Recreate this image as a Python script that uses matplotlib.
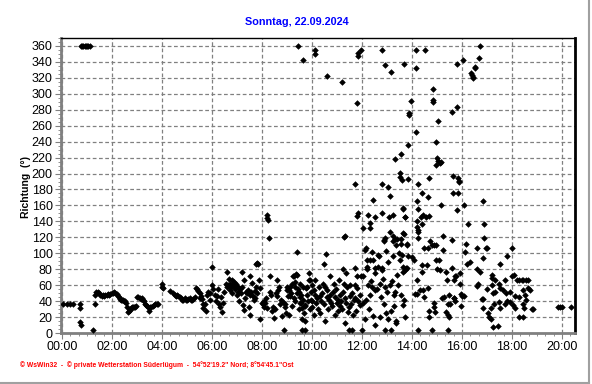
import matplotlib
matplotlib.use('Agg')
import matplotlib.pyplot as plt
from matplotlib.lines import Line2D
from matplotlib.ticker import MultipleLocator, FuncFormatter

plt.rcParams['font.family'] = ['Liberation Sans', 'DejaVu Sans']

# (Uhrzeit in Stunden, Windrichtung in Grad)
nacht = [(0.05, 37), (0.19, 37), (0.32, 37), (0.45, 37), (0.72, 37), (0.72, 31), (0.73, 14), (0.76, 10),
         (0.76, 360), (0.80, 360), (0.85, 360), (0.90, 360), (0.95, 360), (1.00, 360), (1.05, 360), (1.10, 360),
         (1.25, 4), (1.30, 37),
         (1.33, 48), (1.37, 51), (1.42, 52), (1.47, 50), (1.52, 48), (1.58, 47), (1.63, 48), (1.68, 47),
         (1.73, 48), (1.78, 48), (1.83, 49), (1.88, 48), (1.93, 49), (1.98, 50), (2.03, 50), (2.08, 51),
         (2.13, 50), (2.18, 49), (2.22, 47), (2.26, 45), (2.30, 43), (2.34, 42), (2.38, 42), (2.42, 41),
         (2.46, 40), (2.50, 40), (2.55, 38), (2.60, 33), (2.63, 26), (2.67, 27), (2.71, 29), (2.75, 31),
         (2.79, 32), (2.83, 32), (2.88, 32), (2.92, 33), (2.97, 34),
         (3.00, 45), (3.05, 45), (3.10, 44), (3.15, 43), (3.20, 44), (3.25, 42), (3.29, 40), (3.33, 37),
         (3.37, 35), (3.41, 34), (3.45, 33), (3.49, 27), (3.53, 33), (3.57, 32), (3.62, 34), (3.67, 35),
         (3.72, 37), (3.78, 37), (3.85, 37),
         (3.99, 62), (4.00, 58), (4.02, 56), (4.30, 53),
         (4.45, 50), (4.50, 48), (4.55, 47), (4.60, 48), (4.65, 46), (4.70, 45), (4.75, 44), (4.80, 42),
         (4.85, 42), (4.90, 44), (4.95, 42), (5.00, 41), (5.05, 43), (5.10, 44), (5.15, 42), (5.20, 41),
         (5.25, 43), (5.30, 45), (5.35, 56), (5.40, 55), (5.45, 53), (5.50, 50), (5.55, 46), (5.60, 43),
         (5.62, 37), (5.65, 31)]

morgen = [(5.53, 44), (5.80, 48), (6.00, 60), (5.73, 37), (5.77, 27), (5.93, 42), (6.01, 83), (6.20, 46),
          (6.27, 36), (6.33, 33), (6.40, 26), (6.47, 52), (6.60, 58), (6.67, 68), (6.73, 54), (6.80, 50),
          (6.87, 64), (6.93, 58), (7.00, 48), (7.07, 40), (7.20, 58), (7.27, 67), (7.33, 44), (7.47, 33),
          (7.53, 23), (7.60, 63), (7.67, 42), (7.73, 44), (7.80, 50), (7.93, 56), (7.93, 17), (8.07, 40),
          (8.07, 33), (8.20, 31), (8.40, 27), (8.47, 19), (8.60, 46), (8.67, 58), (8.73, 37), (8.80, 21),
          (8.87, 4), (8.93, 37), (9.00, 54), (9.07, 22), (9.20, 62), (9.27, 44), (9.33, 64), (9.30, 40),
          (9.47, 52), (9.60, 31), (9.73, 15), (9.73, 4), (9.87, 66), (10.00, 40), (10.07, 23),
          (6.59, 76), (7.19, 76), (7.52, 71), (7.75, 87), (7.80, 88), (7.85, 87), (7.88, 67), (8.32, 71),
          (8.59, 67), (9.39, 102), (8.19, 148), (8.20, 144), (8.22, 142), (8.28, 119),
          (6.55, 62), (6.62, 60), (6.70, 62), (6.75, 58), (6.80, 66), (6.85, 60), (6.90, 55), (6.95, 62),
          (7.02, 58), (7.05, 52), (7.10, 55), (7.15, 50), (7.35, 52), (7.40, 50), (7.45, 54), (7.50, 48),
          (7.55, 52), (7.62, 46), (5.85, 52), (5.90, 50), (6.05, 55), (6.10, 48), (6.15, 40), (6.25, 55),
          (6.35, 45), (6.42, 38), (7.25, 35), (7.28, 29), (7.70, 53), (7.75, 58), (7.98, 38), (8.02, 36),
          (8.10, 38), (8.15, 44), (8.30, 52), (8.35, 48), (8.45, 32), (8.50, 30), (8.55, 50), (8.65, 54),
          (8.75, 42), (8.85, 39), (8.90, 32), (8.95, 25), (9.05, 46), (9.10, 58), (9.15, 50), (9.25, 72),
          (9.35, 74), (9.42, 55), (9.50, 45), (9.55, 38), (9.65, 58), (9.70, 35), (9.80, 48), (9.90, 30),
          (9.95, 52)]

mittag = [(10.56, 99), (12.10, 104), (12.40, 102), (12.62, 98), (12.68, 96), (12.95, 103), (13.25, 97),
          (13.48, 100), (13.85, 96), (12.19, 92), (12.32, 92), (12.45, 91), (12.20, 83), (12.20, 80),
          (12.52, 81), (12.65, 83), (12.78, 82), (12.52, 75), (12.78, 79), (13.05, 89), (13.50, 91),
          (13.75, 82), (13.40, 73), (13.72, 79), (10.46, 87), (11.71, 81), (11.25, 80), (11.35, 75),
          (11.80, 72), (11.95, 72), (12.05, 72), (9.89, 75), (9.39, 73), (9.26, 71),
          (9.00, 58), (9.07, 54), (9.13, 46), (9.20, 34), (9.33, 58), (9.40, 50), (9.47, 30), (9.53, 38),
          (9.60, 17), (9.67, 25), (9.73, 34), (9.80, 58), (9.93, 67), (9.96, 42), (10.00, 32), (10.07, 54),
          (10.13, 67), (10.20, 44), (10.27, 58), (10.33, 25), (10.40, 50), (10.47, 36), (10.53, 15),
          (10.60, 54), (10.67, 42), (10.73, 71), (10.80, 34), (10.87, 62), (10.93, 23), (11.00, 38),
          (11.07, 67), (11.10, 34), (11.20, 30), (11.27, 62), (11.33, 13), (11.40, 58), (11.47, 32),
          (11.53, 46), (11.60, 50), (11.67, 42), (11.73, 44), (11.80, 56), (11.47, 4), (11.60, 4), (9.60, 4),
          (12.00, 4), (12.13, 17), (12.27, 30), (12.30, 48), (12.43, 21), (12.53, 54), (12.60, 55),
          (12.87, 37), (12.93, 4), (13.16, 4), (13.16, 28), (13.27, 34), (13.29, 48), (13.37, 15),
          (13.37, 12), (13.67, 42),
          (10.10, 48), (10.15, 38), (10.22, 30), (10.30, 46), (10.35, 40), (10.42, 62), (10.50, 58),
          (10.58, 45), (10.63, 30), (10.70, 48), (10.75, 38), (10.83, 52), (10.90, 45), (10.97, 55),
          (11.03, 42), (11.05, 28), (11.13, 48), (11.15, 40), (11.23, 52), (11.30, 44), (11.37, 38),
          (11.43, 26), (11.50, 60), (11.57, 36), (11.63, 22), (11.70, 60), (11.75, 28), (11.85, 40),
          (11.90, 35), (11.93, 48), (9.50, 62), (9.57, 48), (9.62, 42), (9.75, 56), (9.85, 40), (9.98, 60),
          (12.05, 38), (12.15, 42), (12.25, 60), (12.35, 65), (12.40, 58), (12.70, 62), (12.75, 45),
          (12.82, 68), (12.90, 58), (13.00, 52), (13.10, 60), (13.20, 65), (13.33, 52), (13.45, 60),
          (13.55, 48), (13.62, 35), (12.97, 25), (13.05, 18), (12.50, 10), (12.70, 20),
          (11.72, 187), (12.79, 187), (13.03, 183), (13.10, 172), (12.45, 167), (13.65, 157), (11.85, 151),
          (11.80, 147), (12.25, 148), (12.50, 146), (12.78, 150), (13.08, 146), (13.25, 148), (12.32, 138),
          (12.30, 132), (12.03, 132), (13.70, 146), (13.65, 125), (13.10, 127), (12.93, 119), (12.87, 116),
          (13.24, 116), (13.40, 118), (13.57, 118), (13.80, 112), (11.29, 121), (11.32, 122), (12.15, 107),
          (12.88, 117), (13.23, 122), (13.30, 118), (13.35, 111), (13.55, 112)]

nord = [(9.45, 360), (9.65, 343), (10.12, 355), (10.12, 350), (10.59, 322), (11.21, 315), (11.79, 289),
        (11.83, 351), (11.83, 348), (11.96, 355), (12.81, 355), (12.92, 336), (13.17, 327), (13.68, 338),
        (14.16, 355), (14.16, 332), (14.53, 355), (13.96, 291), (13.89, 276), (13.89, 273), (14.85, 306),
        (14.83, 292), (14.83, 290), (15.05, 266), (15.61, 277), (15.81, 283), (15.81, 338), (16.03, 343),
        (16.37, 326), (16.40, 323), (16.43, 321), (16.45, 320), (16.52, 334), (16.52, 332), (16.68, 345),
        (16.72, 360)]

nachmittag = [(14.15, 252), (14.96, 240), (13.85, 236), (13.55, 225), (13.32, 218), (15.00, 219), (15.05, 216),
              (15.10, 213), (15.15, 215), (14.96, 211), (13.52, 201), (13.52, 196), (13.59, 192), (13.85, 193),
              (14.69, 194), (15.65, 197), (15.85, 194), (15.87, 191), (15.89, 189), (14.25, 187), (15.65, 176),
              (15.85, 176), (14.39, 176), (14.65, 170), (14.21, 166), (16.85, 166), (15.16, 161), (16.09, 161),
              (15.78, 154), (14.25, 155), (13.65, 156), (14.45, 148), (14.55, 146), (14.69, 147), (14.20, 140),
              (14.40, 137), (14.20, 133), (14.22, 129), (14.23, 127), (15.23, 122), (16.23, 137), (16.90, 137),
              (16.90, 119), (16.97, 107), (16.59, 107), (18.01, 107), (16.15, 112), (15.59, 117), (14.72, 115),
              (14.64, 107), (14.87, 111), (13.81, 111), (13.72, 145), (13.68, 124), (14.49, 106), (14.79, 110),
              (14.96, 110), (15.23, 104), (16.13, 101), (17.01, 106), (16.85, 94), (17.81, 97), (14.25, 119),
              (14.37, 145)]

abend = [(13.59, 98), (13.99, 95), (14.07, 92), (14.96, 92), (15.09, 92), (13.65, 83), (13.79, 82), (14.39, 85),
         (14.59, 85), (14.99, 80), (15.12, 79), (15.59, 82), (16.19, 87), (16.32, 89), (16.59, 80), (16.72, 77),
         (13.65, 76), (14.39, 77), (15.36, 77), (15.92, 75), (17.19, 73), (17.19, 69), (14.20, 67), (15.39, 67),
         (15.70, 71), (15.75, 71), (15.69, 67), (15.92, 62), (16.65, 62), (17.32, 66), (17.49, 62), (17.72, 66),
         (17.99, 71), (18.19, 66), (18.39, 67), (18.56, 67), (14.65, 57), (14.33, 54), (14.43, 54), (14.12, 49),
         (14.20, 49), (14.47, 45), (15.28, 45), (15.21, 44), (15.48, 48), (15.68, 44), (15.94, 49), (16.00, 47),
         (16.07, 46), (15.94, 34), (16.61, 59), (17.01, 55), (17.19, 60), (17.25, 50), (17.32, 51), (17.52, 56),
         (17.63, 54), (17.76, 50), (17.92, 51), (18.12, 46), (18.29, 45), (18.52, 48), (18.45, 54), (16.80, 43),
         (16.85, 43), (17.49, 39), (17.72, 36), (17.79, 40), (17.92, 39), (18.05, 35), (18.12, 31), (18.43, 36),
         (17.52, 31), (17.28, 37), (17.15, 31), (16.85, 31), (17.05, 25), (17.07, 20), (17.15, 17), (17.25, 8),
         (17.45, 9), (18.45, 20), (18.49, 31), (18.83, 30), (14.88, 38), (14.89, 32), (14.90, 26), (14.69, 27),
         (14.67, 20), (15.36, 26), (15.42, 23), (15.48, 20), (15.43, 37), (15.53, 37), (15.67, 44), (15.73, 40),
         (13.71, 20), (14.25, 4), (14.79, 4), (15.45, 4), (18.07, 73), (18.27, 66), (18.43, 67), (18.64, 67),
         (18.64, 56), (18.81, 30), (19.85, 32), (19.92, 32), (19.99, 32), (20.36, 32), (18.29, 20), (17.52, 87),
         (18.70, 54), (18.55, 42)]

titel = 'Sonntag, 22.09.2024'
y_titel = 'Richtung  (°)'
fusszeile = '\u00a9 WsWin32  -  \u00a9 private Wetterstation Süderlügum  -  54°52\'19.2" Nord; 8°54\'45.1"Ost'

W, H = 592, 384
fig = plt.figure(figsize=(W / 100, H / 100), dpi=100)
ax = fig.add_axes([61 / W, 1 - 333 / H, (575 - 61) / W, (333 - 38) / H])

for block in [nacht, morgen, mittag, nord, nachmittag, abend]:
    t = [p[0] for p in block]
    r = [p[1] for p in block]
    ax.plot(t, r, linestyle='none', marker='D', ms=2.9, color='black', mew=0.4, zorder=3)

ax.set_xlim(-0.04, 20.52)
ax.set_ylim(0, 370)
ax.xaxis.set_major_locator(MultipleLocator(2))
ax.xaxis.set_minor_locator(MultipleLocator(1 / 3))
ax.xaxis.set_major_formatter(FuncFormatter(lambda v, p: '%02d:00' % int(round(v))))
ax.yaxis.set_major_locator(MultipleLocator(20))
ax.yaxis.set_minor_locator(MultipleLocator(5))

ax.set_axisbelow(True)
ax.grid(True, which='major', color='#808080', linestyle=(0, (3, 2)), linewidth=0.9)
ax.tick_params(which='both', direction='out', color='#808080', labelsize=9, pad=2)
ax.tick_params(which='major', length=4)
ax.tick_params(which='minor', length=2.5)

for s in ['left', 'bottom']:
    ax.spines[s].set_color('#808080')
    ax.spines[s].set_linewidth(2)
ax.spines['top'].set_color('black')
ax.spines['top'].set_linewidth(1)
ax.spines['right'].set_color('black')
ax.spines['right'].set_linewidth(2)

fig.text(297 / W, 1 - 22 / H, titel, color='#0000ff', fontweight='bold', fontsize=7.8,
         ha='center', va='center')
fig.text(26 / W, 1 - 187 / H, y_titel, rotation=90, fontweight='bold', fontsize=7.5,
         ha='center', va='center')
fig.text(20 / W, 1 - 365 / H, fusszeile, color='red', fontsize=4.9, fontweight='bold',
         ha='left', va='center')

# grauer Rahmen rechts und unten
fig.add_artist(Line2D([588.5 / W, 588.5 / W], [1 - 382.5 / H, 1], color='#a0a0a0', lw=1.5))
fig.add_artist(Line2D([0, 588.5 / W], [1 - 382.5 / H, 1 - 382.5 / H], color='#a0a0a0', lw=1.5))

plt.savefig('out.png', dpi=100)
